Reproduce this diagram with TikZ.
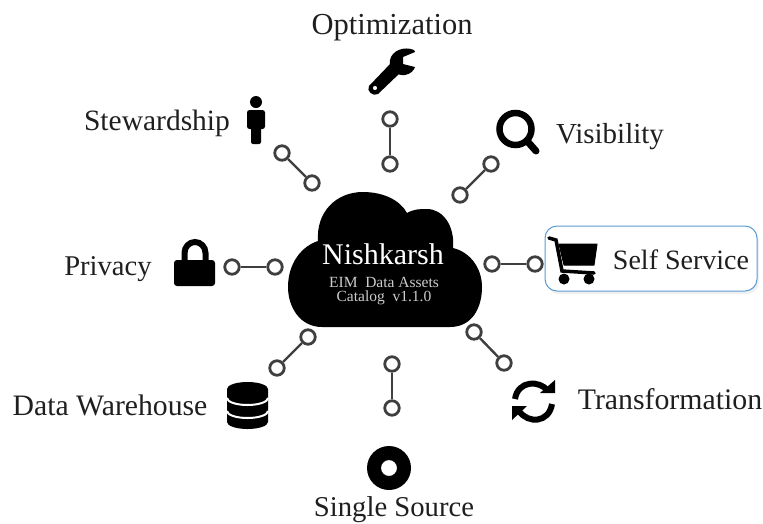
\documentclass[tikz,border=0pt]{standalone}
\usepackage{fontspec}
\setmainfont{Liberation Serif}
\usetikzlibrary{shadows}
\definecolor{lnk}{HTML}{3F3F3F}
\definecolor{boxblue}{HTML}{5B9BD5}
\tikzset{x=1pt,y=-1pt,
 dot/.style={circle,draw=lnk,line width=2.8pt,fill=white,minimum size=14.5pt,inner sep=0pt},
 link/.style={draw=lnk,line width=2.4pt},
 lab/.style={font=\fontsize{#1}{30}\selectfont,text=black!88,inner sep=0pt},
 lab/.default=29.7,
 ico/.style={fill=black,draw=none}}
\begin{document}
\begin{tikzpicture}
\useasboundingbox (0,0) rectangle (763,523);
% cloud
\fill[black] (322,327) .. controls (300,327) and (288,307) .. (288,287)
 .. controls (288,263) and (302,246) .. (318,241)
 .. controls (316,212) and (336,192) .. (363,192)
 .. controls (383,192) and (400,200) .. (407,213)
 .. controls (414,209) and (420,209) .. (427,209)
 .. controls (443,209) and (455,226) .. (453,248)
 .. controls (470,252) and (482,268) .. (482,287)
 .. controls (482,308) and (472,327) .. (450,327) -- cycle;
\node[text=white,inner sep=0pt,font=\fontsize{30}{32}\selectfont] (title) at (383,254) {Nishkarsh};
\node[text=black!20,inner sep=0pt,align=center,font=\fontsize{15.5}{14}\selectfont] (sub) at (384,291) {EIM\ \ Data Assets\\Catalog\ \ v1.1.0};
% self service box
\node[draw=boxblue,line width=1pt,fill=white,rounded corners=12pt,minimum width=212pt,minimum height=65pt,inner sep=0pt,
 drop shadow={shadow xshift=2pt,shadow yshift=-3pt,opacity=.12}] (box) at (651,258.5) {};
% connectors
\node[dot] (a1) at (390,119) {}; \node[dot] (a2) at (390,164) {};
\node[dot] (b1) at (282,153) {}; \node[dot] (b2) at (312,183) {};
\node[dot] (c1) at (491,164) {}; \node[dot] (c2) at (460,195) {};
\node[dot] (d1) at (232,267) {}; \node[dot] (d2) at (275,267) {};
\node[dot] (e1) at (492,264) {}; \node[dot] (e2) at (535,264) {};
\node[dot] (f1) at (474,332) {}; \node[dot] (f2) at (504,363) {};
\node[dot] (g1) at (308,337) {}; \node[dot] (g2) at (277,368) {};
\node[dot] (h1) at (392,364) {}; \node[dot] (h2) at (392,408) {};
\foreach \p/\q in {a1/a2,b1/b2,c1/c2,d1/d2,e1/e2,f1/f2,g1/g2,h1/h2}
  \draw[link] (\p) -- (\q);
% labels
\node[lab=30.5] (l1) at (392,28) {Optimization};
\node[lab=29.5] (l2) at (157,123) {Stewardship};
\node[lab=29] (l3) at (610,137) {Visibility};
\node[lab=28.6] (l4) at (108,269) {Privacy};
\node[lab=28] (l5) at (681,260) {Self Service};
\node[lab=29.8] (l6) at (670,399) {Transformation};
\node[lab=29.7] (l7) at (110,405) {Data Warehouse};
\node[lab=28.7] (l8) at (394,510) {Single Source};
% wrench
\fill[ico,even odd rule] (369,86) -- (391,63) -- (400,73) -- (378,94)
 .. controls (373,97) and (366,91) .. (369,86) -- cycle
 (375,88) circle (2.2);
\fill[ico] (414,50) .. controls (405,46) and (392,50) .. (390,60) .. controls (388,70) and (397,76) .. (405,75)
 .. controls (411,74) and (414,70) .. (415,67) -- (403,64) -- (403,57) -- (415,52) -- cycle;
% person
\fill[ico] (256,102) circle (6);
\fill[ico,rounded corners=2.5pt] (247,110) rectangle (265,129);
\fill[ico,rounded corners=2pt] (251,120) rectangle (261,144);
% magnifier
\draw[black,line width=6.5pt] (515.5,129) circle (16);
\draw[black,line width=7pt,line cap=round] (528,142) -- (536,151);
% lock
\fill[ico,rounded corners=3pt] (174,260) rectangle (215,286);
\draw[black,line width=6pt] (184.5,262) -- (184.5,253) arc (180:360:10.5 and 11) -- (205.5,262);
% cart
\path[fill=black,draw=black,line width=1pt,line join=round] (559,244) -- (597,244) -- (594,265) -- (564,265) -- cycle;
\draw[black,line width=3.5pt,line cap=round] (549,238) -- (556,240) -- (562,271) -- (594,273);
\fill[black] (564,279) circle (5.5) (589,279) circle (5.5);
% database
\fill[black] (227,389) arc (180:360:20.5 and 7) -- (268,422) arc (0:180:20.5 and 7) -- cycle;
\draw[white,line width=2pt] (227,398) arc (180:0:20.5 and 7);
\draw[white,line width=2pt] (227,411) arc (180:0:20.5 and 7);
% refresh
\draw[black,line width=6pt] (515,399) .. controls (518,380) and (540,380) .. (548,391);
\fill[black] (555,380) -- (555,393) -- (540,393) -- cycle;
\draw[black,line width=6pt] (552,404) .. controls (549,423) and (528,424) .. (519,411);
\fill[black] (512,406) -- (527,406) -- (512,420) -- cycle;
% disc
\fill[ico,even odd rule] (389,468) circle (22) (389,468) circle (8);
\end{tikzpicture}
\end{document}
